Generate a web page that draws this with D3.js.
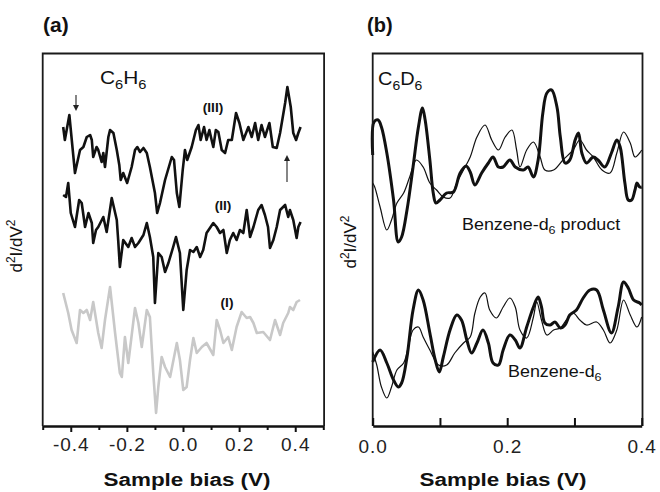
<!DOCTYPE html>
<html><head><meta charset="utf-8">
<script src="https://cdn.jsdelivr.net/npm/d3@7"></script>
<style>body{margin:0;background:#fff} svg{display:block}</style>
</head><body><svg id="c" width="660" height="492"></svg>
<script>
// ---------- DATA (arbitrary d2I/dV2 units, offset traces) ----------
const ticksA = [-0.4, -0.2, 0.0, 0.2, 0.4];
const minorTicksA = [-0.5, -0.3, -0.1, 0.1, 0.3, 0.5];
const ticksB = [0.0, 0.2, 0.4];
const minorTicksB = [0.1, 0.3];

const traceIII = [[-0.427,29.9],[-0.421,28.6],[-0.405,31.1],[-0.385,25.3],[-0.367,27.6],[-0.355,27.9],[-0.343,28.9],[-0.331,29.1],[-0.325,28.6],[-0.320,26.9],[-0.308,27.9],[-0.302,27.6],[-0.290,26.4],[-0.284,27.3],[-0.278,25.9],[-0.266,28.9],[-0.260,29.6],[-0.248,29.3],[-0.236,27.6],[-0.227,26.1],[-0.222,24.6],[-0.213,25.3],[-0.199,24.3],[-0.183,25.9],[-0.171,27.6],[-0.163,27.9],[-0.153,27.4],[-0.141,27.8],[-0.129,27.3],[-0.118,25.9],[-0.100,23.3],[-0.092,21.3],[-0.082,22.3],[-0.064,24.6],[-0.040,26.9],[-0.032,26.6],[-0.022,23.3],[-0.013,21.9],[-0.001,25.6],[0.007,27.6],[0.015,26.6],[0.031,27.9],[0.046,29.6],[0.055,30.1],[0.063,28.6],[0.075,29.9],[0.084,28.6],[0.094,29.6],[0.102,28.6],[0.108,27.9],[0.117,29.6],[0.126,29.4],[0.138,27.6],[0.150,27.3],[0.161,28.6],[0.174,28.6],[0.189,31.3],[0.201,30.3],[0.215,28.6],[0.233,29.9],[0.245,28.9],[0.257,30.3],[0.268,28.6],[0.280,30.1],[0.292,28.9],[0.308,30.3],[0.320,27.9],[0.334,27.8],[0.346,29.3],[0.364,32.3],[0.372,33.9],[0.384,31.9],[0.393,29.3],[0.403,28.6],[0.411,29.3],[0.419,29.9]];

const traceII = [[-0.427,23.1],[-0.417,22.9],[-0.409,24.3],[-0.400,21.3],[-0.385,19.9],[-0.370,22.6],[-0.361,22.3],[-0.349,19.9],[-0.337,21.3],[-0.325,20.3],[-0.320,18.3],[-0.310,19.6],[-0.302,19.9],[-0.284,20.9],[-0.272,19.4],[-0.254,22.8],[-0.236,20.6],[-0.231,18.6],[-0.225,15.9],[-0.213,18.6],[-0.195,17.9],[-0.183,18.8],[-0.171,17.9],[-0.159,18.3],[-0.141,19.1],[-0.129,20.3],[-0.118,18.9],[-0.106,16.9],[-0.100,12.3],[-0.088,17.3],[-0.076,16.9],[-0.064,15.4],[-0.052,16.3],[-0.035,17.9],[-0.025,18.9],[-0.011,17.3],[0.001,11.6],[0.013,15.6],[0.025,17.6],[0.037,17.4],[0.049,17.9],[0.061,16.9],[0.072,17.6],[0.084,19.3],[0.108,20.3],[0.120,19.9],[0.132,19.3],[0.144,19.6],[0.156,17.3],[0.167,18.6],[0.179,19.3],[0.191,18.6],[0.203,19.6],[0.215,19.3],[0.227,21.6],[0.239,18.9],[0.251,19.9],[0.268,21.6],[0.280,22.1],[0.292,21.1],[0.303,19.9],[0.310,17.8],[0.322,18.6],[0.334,19.9],[0.346,21.6],[0.364,22.1],[0.375,20.9],[0.381,21.6],[0.393,20.6],[0.405,18.8],[0.411,19.9],[0.419,20.4]];

const traceI = [[-0.427,13.3],[-0.409,11.3],[-0.397,9.6],[-0.379,8.3],[-0.367,11.6],[-0.355,11.3],[-0.343,11.6],[-0.331,10.6],[-0.320,12.4],[-0.302,9.3],[-0.290,7.8],[-0.278,10.6],[-0.260,13.9],[-0.242,9.3],[-0.225,5.3],[-0.218,4.9],[-0.207,8.9],[-0.195,6.3],[-0.171,11.8],[-0.159,10.3],[-0.147,7.9],[-0.129,11.6],[-0.118,10.9],[-0.106,5.3],[-0.096,1.3],[-0.088,3.9],[-0.076,6.9],[-0.064,5.9],[-0.046,4.9],[-0.022,8.3],[-0.011,6.6],[0.001,3.6],[0.013,3.9],[0.025,6.6],[0.037,8.8],[0.049,7.3],[0.067,7.9],[0.084,8.3],[0.108,7.1],[0.120,10.6],[0.132,9.6],[0.144,8.3],[0.161,8.9],[0.174,7.6],[0.191,9.9],[0.209,11.4],[0.227,10.8],[0.239,10.9],[0.251,10.3],[0.263,9.3],[0.286,9.4],[0.310,8.6],[0.328,10.6],[0.346,9.1],[0.357,10.3],[0.375,11.3],[0.381,11.9],[0.393,11.6],[0.405,12.4],[0.417,12.6]];

const productThick = [[0.000,27.1],[0.002,30.4],[0.008,30.6],[0.013,29.9],[0.021,27.3],[0.031,22.6],[0.038,18.4],[0.043,18.9],[0.051,21.6],[0.060,25.9],[0.068,29.9],[0.074,31.8],[0.078,30.6],[0.085,26.6],[0.090,23.3],[0.094,22.3],[0.100,22.6],[0.110,23.3],[0.120,23.4],[0.130,25.3],[0.139,26.0],[0.145,25.4],[0.152,24.1],[0.162,25.3],[0.172,26.3],[0.179,26.9],[0.187,25.9],[0.194,25.9],[0.204,26.6],[0.212,25.9],[0.224,25.6],[0.231,25.9],[0.239,24.9],[0.246,26.6],[0.253,31.3],[0.259,33.3],[0.266,33.6],[0.274,31.9],[0.279,28.9],[0.286,26.3],[0.293,26.6],[0.301,28.6],[0.306,29.3],[0.311,27.3],[0.318,26.3],[0.328,26.9],[0.335,26.6],[0.345,25.9],[0.355,27.3],[0.363,28.6],[0.368,27.9],[0.375,24.3],[0.380,22.6],[0.385,22.6],[0.390,23.6],[0.393,24.3],[0.397,23.9],[0.400,23.9]];

const productThin = [[0.000,24.3],[0.003,23.9],[0.011,21.9],[0.021,19.6],[0.028,20.6],[0.036,22.3],[0.046,23.3],[0.055,24.9],[0.065,26.6],[0.075,25.9],[0.085,24.3],[0.095,23.6],[0.105,22.9],[0.115,22.8],[0.125,24.3],[0.135,25.6],[0.145,26.9],[0.155,28.9],[0.167,30.1],[0.177,28.6],[0.187,27.6],[0.197,28.9],[0.207,29.6],[0.214,27.6],[0.219,25.9],[0.229,27.6],[0.239,28.4],[0.249,26.9],[0.256,25.6],[0.269,25.6],[0.283,26.6],[0.298,27.6],[0.308,28.6],[0.318,27.6],[0.328,26.9],[0.341,25.6],[0.353,25.3],[0.363,27.3],[0.373,29.4],[0.383,28.3],[0.390,26.9],[0.397,27.3],[0.400,27.6]];

const benzeneThick = [[0.000,6.4],[0.011,7.6],[0.021,6.3],[0.031,4.6],[0.038,3.9],[0.043,4.3],[0.051,6.9],[0.060,11.6],[0.068,13.6],[0.075,12.6],[0.085,9.3],[0.093,6.6],[0.099,5.4],[0.105,6.9],[0.115,9.6],[0.125,11.1],[0.132,10.6],[0.140,8.6],[0.147,7.3],[0.155,8.3],[0.164,9.6],[0.172,8.3],[0.179,6.3],[0.187,6.1],[0.194,7.6],[0.204,9.1],[0.212,8.6],[0.219,7.8],[0.229,9.9],[0.239,11.9],[0.246,12.9],[0.251,11.9],[0.256,10.3],[0.264,10.1],[0.271,10.4],[0.279,9.8],[0.286,10.1],[0.293,11.1],[0.303,11.6],[0.313,12.8],[0.323,13.6],[0.333,13.6],[0.343,11.6],[0.355,9.3],[0.365,11.9],[0.373,14.4],[0.380,13.8],[0.388,12.6],[0.397,12.3],[0.400,12.1]];

const benzeneThin = [[0.000,7.4],[0.006,6.1],[0.013,3.9],[0.021,2.8],[0.028,3.9],[0.036,5.6],[0.046,6.3],[0.053,7.9],[0.060,9.6],[0.068,9.9],[0.075,8.9],[0.085,7.6],[0.098,6.1],[0.110,6.1],[0.122,7.3],[0.135,8.3],[0.145,8.9],[0.152,11.3],[0.160,12.9],[0.167,13.3],[0.174,11.6],[0.184,10.8],[0.194,11.9],[0.204,12.8],[0.212,11.9],[0.219,9.6],[0.229,8.8],[0.239,10.9],[0.244,12.4],[0.251,10.6],[0.259,9.1],[0.269,9.6],[0.279,9.8],[0.288,10.6],[0.298,11.3],[0.308,10.6],[0.318,10.1],[0.333,10.4],[0.343,9.6],[0.353,8.3],[0.363,9.6],[0.373,12.6],[0.383,11.1],[0.393,9.9],[0.400,10.9]];

// ---------- DRAWING ----------
const svg = d3.select('#c');
const FONT = "Liberation Sans, Arial, Helvetica, sans-serif";
const yS = d3.scaleLinear().domain([0, 37.3]).range([426, 53]);
const xA = d3.scaleLinear().domain([-0.5, 0.5]).range([42.7, 323.3]);
const xB = d3.scaleLinear().domain([0, 0.4]).range([372.7, 641.7]);

// Traces panel (a)
const lineA = d3.line().x(d => xA(d[0])).y(d => yS(d[1]));
svg.append('path').datum(traceI).attr('d', lineA).attr('fill', 'none').attr('stroke', '#c8c8c8').attr('stroke-width', 2.6).attr('stroke-linejoin', 'round');
svg.append('path').datum(traceII).attr('d', lineA).attr('fill', 'none').attr('stroke', '#111').attr('stroke-width', 2.6).attr('stroke-linejoin', 'round');
svg.append('path').datum(traceIII).attr('d', lineA).attr('fill', 'none').attr('stroke', '#111').attr('stroke-width', 2.6).attr('stroke-linejoin', 'round');

// Traces panel (b)
const lineB = d3.line().x(d => xB(d[0])).y(d => yS(d[1])).curve(d3.curveCatmullRom.alpha(0.5));
[[productThin, 1.2], [benzeneThin, 1.2], [productThick, 3], [benzeneThick, 3]].forEach(([data, w]) => {
  svg.append('path').datum(data).attr('d', lineB).attr('fill', 'none').attr('stroke', '#111').attr('stroke-width', w).attr('stroke-linejoin', 'round');
});

// Arrows
function arrow(x, y0, y1) {
  const dir = Math.sign(y1 - y0);
  svg.append('line').attr('x1', x).attr('x2', x).attr('y1', y0).attr('y2', y1 - dir * 4).attr('stroke', '#222').attr('stroke-width', 1.1);
  svg.append('path').attr('d', `M${x - 3},${y1 - dir * 6}L${x},${y1}L${x + 3},${y1 - dir * 6}Z`).attr('fill', '#222');
}
arrow(76, 95, 111);
arrow(287, 182, 155);

// Texts
function txt(x, yy, size, weight, sx, anchor, parts, rot) {
  const g = svg.append('g').attr('transform', `translate(${x},${yy})` + (rot ? ` rotate(${rot})` : '') + ` scale(${sx},1)`);
  const t = g.append('text').attr('font-family', FONT).attr('font-size', size)
    .attr('font-weight', weight).attr('text-anchor', anchor).attr('fill', '#111');
  parts.forEach(p => {
    const s = t.append('tspan').text(p.t);
    if (p.sub) s.attr('font-size', size * 0.7).attr('dy', size * 0.25);
    if (p.sup) s.attr('font-size', size * 0.7).attr('dy', -size * 0.4);
    if (p.back) s.attr('dy', p.back);
  });
}
txt(43, 32, 20, 'bold', 1.05, 'start', [{t: '(a)'}]);
txt(367, 32, 20, 'bold', 1.0, 'start', [{t: '(b)'}]);
txt(100, 84, 19, 'normal', 1.1, 'start', [{t: 'C'}, {t: '6', sub: true}, {t: 'H', back: -19 * 0.25}, {t: '6', sub: true}]);
txt(378, 85, 19, 'normal', 1.05, 'start', [{t: 'C'}, {t: '6', sub: true}, {t: 'D', back: -19 * 0.25}, {t: '6', sub: true}]);
txt(213, 112, 13, 'bold', 1.05, 'middle', [{t: '(III)'}]);
txt(223, 210, 13, 'bold', 1.05, 'middle', [{t: '(II)'}]);
txt(227, 307, 13, 'bold', 1.05, 'middle', [{t: '(I)'}]);
txt(462, 230, 16, 'normal', 1.12, 'start', [{t: 'Benzene-d'}, {t: '6', sub: true}, {t: ' product', back: -16 * 0.25}]);
txt(508, 377, 16, 'normal', 1.12, 'start', [{t: 'Benzene-d'}, {t: '6', sub: true}]);
txt(187, 486, 19, 'bold', 1.18, 'middle', [{t: 'Sample bias (V)'}]);
txt(503, 486, 19, 'bold', 1.18, 'middle', [{t: 'Sample bias (V)'}]);
txt(22, 246, 17, 'normal', 1.0, 'middle', [{t: 'd'}, {t: '2', sup: true}, {t: 'I/dV', back: 17 * 0.4}, {t: '2', sup: true}], -90);
txt(356, 242, 17, 'normal', 1.0, 'middle', [{t: 'd'}, {t: '2', sup: true}, {t: 'I/dV', back: 17 * 0.4}, {t: '2', sup: true}], -90);

// Frames (drawn last): left, top, right
[[xA, 1.8], [xB, 1.8]].forEach(([sc, w]) => {
  const [x0, x1] = sc.range();
  svg.append('polyline').attr('points', `${x0},426 ${x0},53.5 ${x1 + 0.8},53.5 ${x1 + 0.8},426`)
    .attr('fill', 'none').attr('stroke', '#1a1a1a').attr('stroke-width', w);
});

// Axes (drawn last)
function axis(scale, major, minor, inner, pad) {
  const g = svg.append('g').attr('transform', 'translate(0,426)');
  g.call(d3.axisBottom(scale).tickValues(major).tickSizeInner(inner).tickSizeOuter(0).tickPadding(pad).tickFormat(d => d.toFixed(1)));
  const g2 = svg.append('g').attr('transform', 'translate(0,426)');
  g2.call(d3.axisBottom(scale).tickValues(minor).tickSizeInner(inner > 0 ? 4 : inner).tickSizeOuter(0).tickFormat(''));
  g2.select('.domain').remove();
  [g, g2].forEach(gg => {
    gg.selectAll('.domain').attr('stroke', '#111').attr('stroke-width', 2.4);
    gg.selectAll('.tick line').attr('stroke', '#111').attr('stroke-width', 2);
    gg.selectAll('.tick text').attr('font-family', FONT).attr('font-size', 19).attr('fill', '#222').attr('letter-spacing', 1);
  });
}
axis(xA, ticksA, minorTicksA, 6, 6);
axis(xB, ticksB, minorTicksB, -8, 14);
</script></body></html>
